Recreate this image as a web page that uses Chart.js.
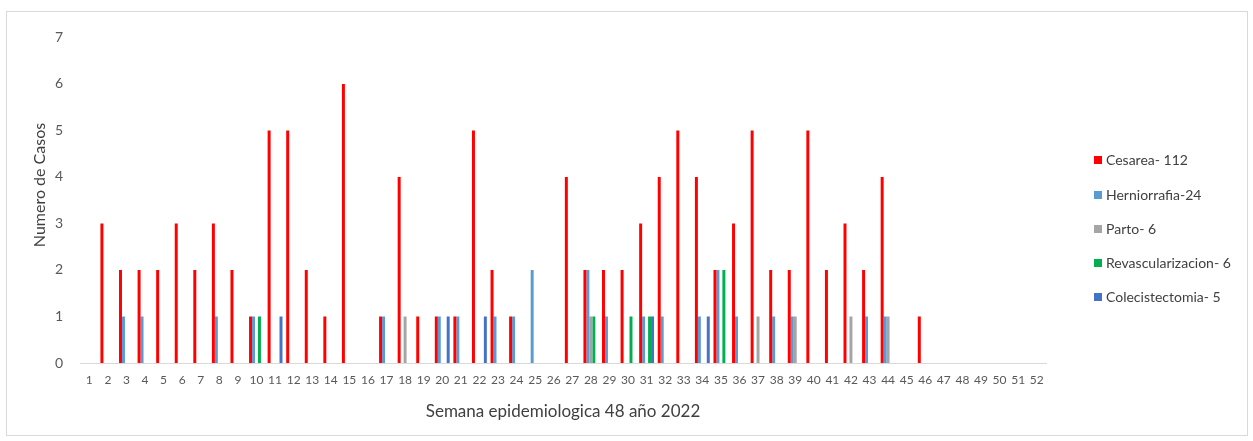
<!DOCTYPE html>
<html>
<head>
<meta charset="utf-8">
<script src="https://cdn.jsdelivr.net/npm/chart.js@4/dist/chart.umd.min.js"></script>
<style>
  html, body { margin: 0; padding: 0; background: #fff; }
  #frame { position: absolute; left: 6px; top: 11px; width: 1240px; height: 423px; border: 1px solid #d9d9d9; }
  #c { display: block; }
  #legend { position: absolute; left: 1094px; top: 150px; font-family: Lato, sans-serif; font-size: 14px; color: #404040; }
  .item { position: absolute; left: 0; white-space: nowrap; height: 20px; line-height: 20px; }
  .sw { position: absolute; left: 0; top: 6px; width: 8px; height: 8px; }
  .tx { position: absolute; left: 12px; top: 0; }
</style>
</head>
<body>
<div id="frame"><canvas id="c" width="1240" height="423"></canvas></div>
<div id="legend"></div>
<script>
const weeks = ['1','2','3','4','5','6','7','8','9','10','11','12','13','14','15','16','17','18','19','20','21','22','23','24','25','26','27','28','29','30','31','32','33','34','35','36','37','38','39','40','41','42','43','44','45','46','47','48','49','50','51','52'];
const seriesNames = ['Cesarea- 112', 'Herniorrafia-24', 'Parto- 6', 'Revascularizacion- 6', 'Colecistectomia- 5'];
const cesarea = [0,3,2,2,2,3,2,3,2,1, 5,5,2,1,6,0,1,4,1,1, 1,5,2,1,0,0,4,2,2,2, 3,4,5,4,2,3,5,2,2,5, 2,3,2,4,0,1,0,0,0,0, 0,0];
const herniorrafia = [0,0,1,1,0,0,0,1,0,1, 0,0,0,0,0,0,1,0,0,1, 1,0,1,1,2,0,0,2,1,0, 1,1,0,1,2,1,0,1,1,0, 0,0,1,1,0,0,0,0,0,0, 0,0];
const parto = [0,0,0,0,0,0,0,0,0,0, 0,0,0,0,0,0,0,1,0,0, 0,0,0,0,0,0,0,1,0,0, 0,0,0,0,0,0,1,0,1,0, 0,1,0,1,0,0,0,0,0,0, 0,0];
const revascularizacion = [0,0,0,0,0,0,0,0,0,1, 0,0,0,0,0,0,0,0,0,0, 0,0,0,0,0,0,0,1,0,1, 1,0,0,0,2,0,0,0,0,0, 0,0,0,0,0,0,0,0,0,0, 0,0];
const colecistectomia = [0,0,0,0,0,0,0,0,0,0, 1,0,0,0,0,0,0,0,0,1, 0,1,0,0,0,0,0,0,0,0, 1,0,0,1,0,0,0,0,0,0, 0,0,0,0,0,0,0,0,0,0, 0,0];
const yTicks = [0,1,2,3,4,5,6,7];
const yTitle = 'Numero de Casos';
const colors = ['#ff0000', '#5b9bd5', '#a5a5a5', '#00b050', '#4472c4'];
const values = [cesarea, herniorrafia, parto, revascularizacion, colecistectomia];

Chart.defaults.font.family = 'Lato, sans-serif';

const yTitlePlugin = {
  id: 'yTitle',
  afterDraw(chart) {
    const ctx = chart.ctx;
    ctx.save();
    ctx.translate(33, 173);
    ctx.rotate(-Math.PI / 2);
    ctx.font = '16px Lato, sans-serif';
    ctx.fillStyle = '#404040';
    ctx.textAlign = 'center';
    ctx.textBaseline = 'middle';
    ctx.fillText(yTitle, 0, 0);
    ctx.restore();
  }
};

new Chart(document.getElementById('c'), {
  type: 'bar',
  data: {
    labels: weeks,
    datasets: values.map((v, i) => ({
      label: seriesNames[i],
      data: v,
      backgroundColor: colors[i],
      borderWidth: 0,
      categoryPercentage: 0.8,
      barPercentage: 1.0
    }))
  },
  plugins: [yTitlePlugin],
  options: {
    responsive: false,
    animation: false,
    layout: { padding: { left: 19, right: 201, top: 23, bottom: 9 } },
    plugins: { legend: { display: false }, tooltip: { enabled: false } },
    scales: {
      x: {
        grid: { display: false, drawTicks: false },
        border: { display: true, color: '#d9d9d9', width: 1 },
        ticks: { autoSkip: false, maxRotation: 0, minRotation: 0, padding: 10, color: '#595959', font: { size: 12 } },
        title: { display: true, text: 'Semana epidemiologica 48 año 2022', color: '#404040', font: { size: 17 }, padding: { top: 4, bottom: 4 } },
        afterFit: (s) => { s.height = 63; }
      },
      y: {
        min: 0, max: 7,
        grid: { display: false, drawTicks: false },
        border: { display: false },
        afterBuildTicks: (s) => { s.ticks = yTicks.map(v => ({ value: v })); },
        ticks: { padding: 17, color: '#595959', font: { size: 14 } },
        title: { display: false },
        afterFit: (s) => { s.width = 54; }
      }
    }
  }
});

const legendTops = [0, 34.5, 69, 103, 137];
const lg = document.getElementById('legend');
seriesNames.forEach((n, i) => {
  const it = document.createElement('div');
  it.className = 'item';
  it.style.top = legendTops[i] + 'px';
  it.innerHTML = '<span class="sw" style="background:' + colors[i] + '"></span><span class="tx">' + n + '</span>';
  lg.appendChild(it);
});
</script>
</body>
</html>
